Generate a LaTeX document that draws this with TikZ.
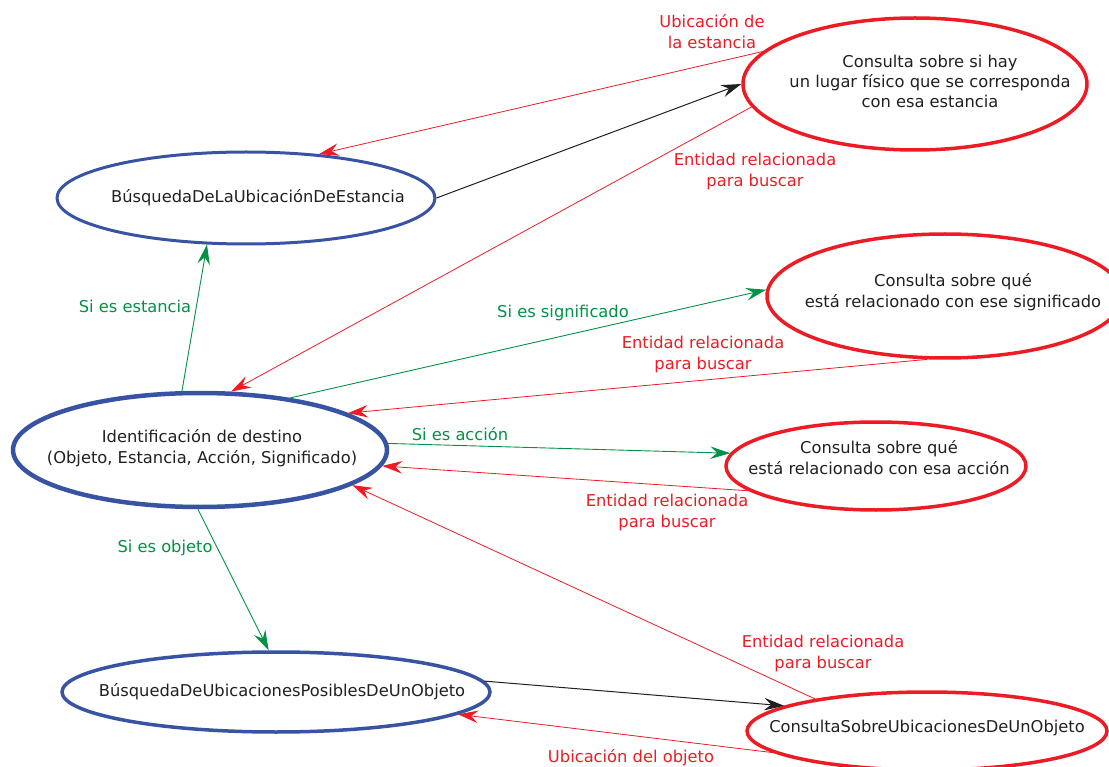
\documentclass[tikz,border=0pt]{standalone}
\usepackage{fontspec}
\setmainfont{DejaVu Sans}
\usetikzlibrary{arrows.meta,shapes.geometric}

\definecolor{azul}{RGB}{57,83,164}
\definecolor{rojo}{RGB}{237,28,36}
\definecolor{verde}{RGB}{0,146,69}
\definecolor{tinta}{RGB}{35,31,32}

\begin{document}
\begin{tikzpicture}[x=1pt,y=-1pt,
    font=\fontsize{16.3}{21}\selectfont,
    blueell/.style={ellipse,draw=azul,inner sep=0pt},
    redell/.style={ellipse,draw=rojo,line width=3.5pt,inner sep=0pt},
    txt/.style={align=center,inner sep=0pt,text=tinta},
    lbl/.style={align=center,inner sep=0pt},
    >={Stealth[length=20pt,width=12.5pt,inset=7pt]}]
    \useasboundingbox (0,0) rectangle (1109,767);

    % left column
    \node[blueell,line width=3pt,minimum width=378pt,minimum height=92pt] (busqEst) at (246,198) {};
    \node[txt] (tBusqEst) at (258,198) {BúsquedaDeLaUbicaciónDeEstancia};
    \node[blueell,line width=4.5pt,minimum width=374pt,minimum height=114pt] (ident) at (200,450) {};
    \node[txt] (tIdent) at (202,448) {Identificación de destino\\(Objeto, Estancia, Acción, Significado)};
    \node[blueell,line width=3.5pt,minimum width=428pt,minimum height=80pt] (busqObj) at (276,692) {};
    \node[txt] (tBusqObj) at (282,692) {BúsquedaDeUbicacionesPosiblesDeUnObjeto};

    % right column
    \node[redell,minimum width=344pt,minimum height=132pt] (consEst) at (915,84) {};
    \node[txt,font=\fontsize{16.3}{20}\selectfont] (tConsEst) at (930,81) {Consulta sobre si hay\\un lugar físico que se corresponda\\con esa estancia};
    \node[redell,minimum width=356pt,minimum height=124pt] (consSig) at (945,296) {};
    \node[txt] (tConsSig) at (953,292) {Consulta sobre qué\\está relacionado con ese significado};
    \node[redell,minimum width=300pt,minimum height=88pt] (consAcc) at (876,466) {};
    \node[txt] (tConsAcc) at (879,458) {Consulta sobre qué\\está relacionado con esa acción};
    \node[redell,minimum width=360pt,minimum height=78pt] (consObj) at (927,731) {};
    \node[txt] (tConsObj) at (927,728) {ConsultaSobreUbicacionesDeUnObjeto};

    % labels
    \node[lbl,rojo] (lUbEst) at (712,32) {Ubicación de\\la estancia};
    \node[lbl,rojo] (lEntEst) at (755,172) {Entidad relacionada\\para buscar};
    \node[lbl,verde] (lSiEst) at (135,306) {Si es estancia};
    \node[lbl,verde] (lSiSig) at (563,313) {Si es significado};
    \node[lbl,rojo] (lEntSig) at (703,355) {Entidad relacionada\\para buscar};
    \node[lbl,verde] (lSiAcc) at (460,434) {Si es acción};
    \node[lbl,rojo] (lEntAcc) at (667,513) {Entidad relacionada\\para buscar};
    \node[lbl,verde] (lSiObj) at (165,548) {Si es objeto};
    \node[lbl,rojo] (lEntObj) at (823,654) {Entidad relacionada\\para buscar};
    \node[lbl,rojo] (lUbObj) at (631,758) {Ubicación del objeto};

    \path[->,tinta,line width=1pt] (busqEst.0) edge (consEst.180)
              (busqObj.3) edge (consObj.170);
    \path[->,verde,line width=0.9pt] (ident.107) edge (busqEst.230)
              (ident.30)  edge (consSig.178)
              (ident.2)   edge (consAcc.175)
              (ident.268) edge (busqObj.100);
    \path[->,rojo,line width=0.8pt] (consEst.168) edge (busqEst.31)
              (consEst.188) edge (ident.62)
              (consSig.254) edge (ident.14)
              (consAcc.191) edge (ident.355)
              (consObj.164) edge (ident.347)
              (consObj.188) edge (busqObj.353);
\end{tikzpicture}
\end{document}
